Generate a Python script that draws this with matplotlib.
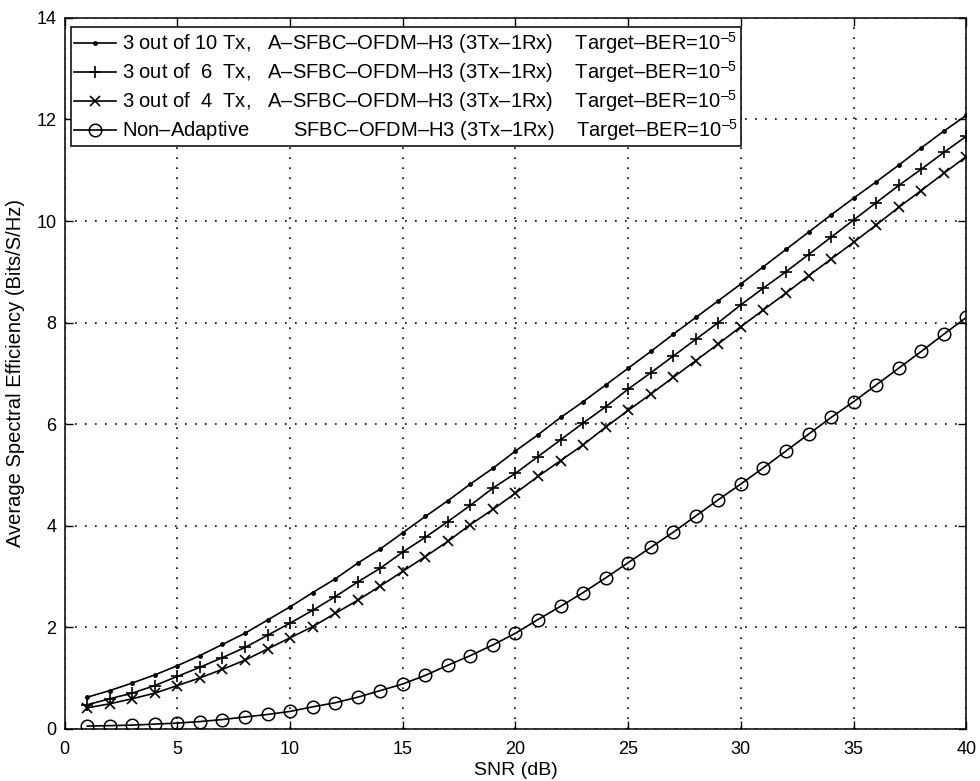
"""Eficiencia espectral media frente a SNR: A-SFBC-OFDM-H3 con selección de antenas."""

import matplotlib

matplotlib.use("Agg")
import matplotlib.pyplot as plt  # noqa: E402

snr_db = list(range(1, 41))

# 3 de 10 Tx
se_10tx = [0.62, 0.75, 0.90, 1.06, 1.24, 1.44, 1.66, 1.88, 2.14, 2.40,
           2.68, 2.95, 3.26, 3.54, 3.86, 4.18, 4.49, 4.82, 5.13, 5.47,
           5.79, 6.13, 6.44, 6.77, 7.10, 7.43, 7.77, 8.10, 8.43, 8.76,
           9.10, 9.44, 9.78, 10.12, 10.45, 10.77, 11.10, 11.44, 11.77, 12.08]
# 3 de 6 Tx
se_6tx = [0.47, 0.59, 0.70, 0.85, 1.03, 1.21, 1.40, 1.60, 1.84, 2.08,
          2.33, 2.60, 2.89, 3.16, 3.48, 3.77, 4.08, 4.40, 4.74, 5.03,
          5.36, 5.69, 6.02, 6.34, 6.69, 7.01, 7.34, 7.67, 8.00, 8.35,
          8.68, 9.00, 9.34, 9.68, 10.02, 10.36, 10.70, 11.02, 11.35, 11.67]
# 3 de 4 Tx
se_4tx = [0.41, 0.49, 0.59, 0.70, 0.85, 1.00, 1.17, 1.35, 1.57, 1.79,
          2.01, 2.27, 2.53, 2.81, 3.10, 3.39, 3.69, 4.02, 4.32, 4.64,
          4.97, 5.28, 5.59, 5.94, 6.27, 6.59, 6.92, 7.25, 7.58, 7.92,
          8.25, 8.58, 8.92, 9.25, 9.58, 9.92, 10.27, 10.60, 10.94, 11.27]
# no adaptativo
se_nonadapt = [0.05, 0.06, 0.07, 0.09, 0.11, 0.14, 0.18, 0.23, 0.28, 0.34,
               0.43, 0.51, 0.62, 0.75, 0.88, 1.05, 1.25, 1.44, 1.65, 1.88,
               2.15, 2.41, 2.68, 2.97, 3.27, 3.57, 3.87, 4.19, 4.51, 4.82,
               5.14, 5.47, 5.80, 6.13, 6.44, 6.77, 7.10, 7.43, 7.77, 8.10]

D = "\u2013"
ber = f"Target{D}BER=10$^{{\\mathregular{{{D}5}}}}$"
scheme = f"SFBC{D}OFDM{D}H3 (3Tx{D}1Rx)    "
labels = [
    f"3 out of 10 Tx,   A{D}" + scheme + ber,
    f"3 out of  6  Tx,   A{D}" + scheme + ber,
    f"3 out of  4  Tx,   A{D}" + scheme + ber,
    f"Non{D}Adaptive        " + scheme + ber,
]

plt.rcParams["font.family"] = ["Liberation Sans", "DejaVu Sans"]
plt.rcParams["mathtext.fontset"] = "custom"
plt.rcParams["mathtext.rm"] = "Liberation Sans"


def main() -> None:
    fig = plt.figure(figsize=(9.8, 7.81), dpi=100)
    ax = fig.add_axes([0.066, 0.067, 0.920, 0.910])

    kw = dict(color="black", lw=1.2)
    ax.plot(snr_db, se_10tx, marker=".", ms=5, label=labels[0], **kw)
    ax.plot(snr_db, se_6tx, marker="+", ms=9, mew=1.2, label=labels[1], **kw)
    ax.plot(snr_db, se_4tx, marker="x", ms=7, mew=1.2, label=labels[2], **kw)
    ax.plot(snr_db, se_nonadapt, marker="o", ms=9, mfc="none", mew=1.1,
            label=labels[3], **kw)

    ax.set_xlim(0, 40)
    ax.set_ylim(0, 14)
    ax.set_xticks(range(0, 41, 5))
    ax.set_yticks(range(0, 15, 2))
    ax.grid(True, ls=(0, (1, 5)), color="black", lw=1.2)
    ax.tick_params(direction="in", top=True, right=True, length=6,
                   labelsize=13, width=1)
    ax.tick_params(axis="x", pad=9)
    ax.tick_params(axis="y", pad=6)
    for sp in ax.spines.values():
        sp.set_linewidth(1.1)

    ax.set_xlabel("SNR (dB)", fontsize=14, labelpad=3)
    ax.set_ylabel("Average Spectral Efficiency (Bits/S/Hz)", fontsize=14.5,
                  labelpad=8)

    leg = ax.legend(loc="upper left", bbox_to_anchor=(0.0067, 0.987),
                    borderaxespad=0, fontsize=14.5, fancybox=False,
                    framealpha=1, edgecolor="black", handlelength=2.1,
                    handletextpad=0.3, labelspacing=0.15, borderpad=0.15)
    leg.get_frame().set_linewidth(1.1)

    fig.savefig("out.png", dpi=100)


if __name__ == "__main__":
    main()
